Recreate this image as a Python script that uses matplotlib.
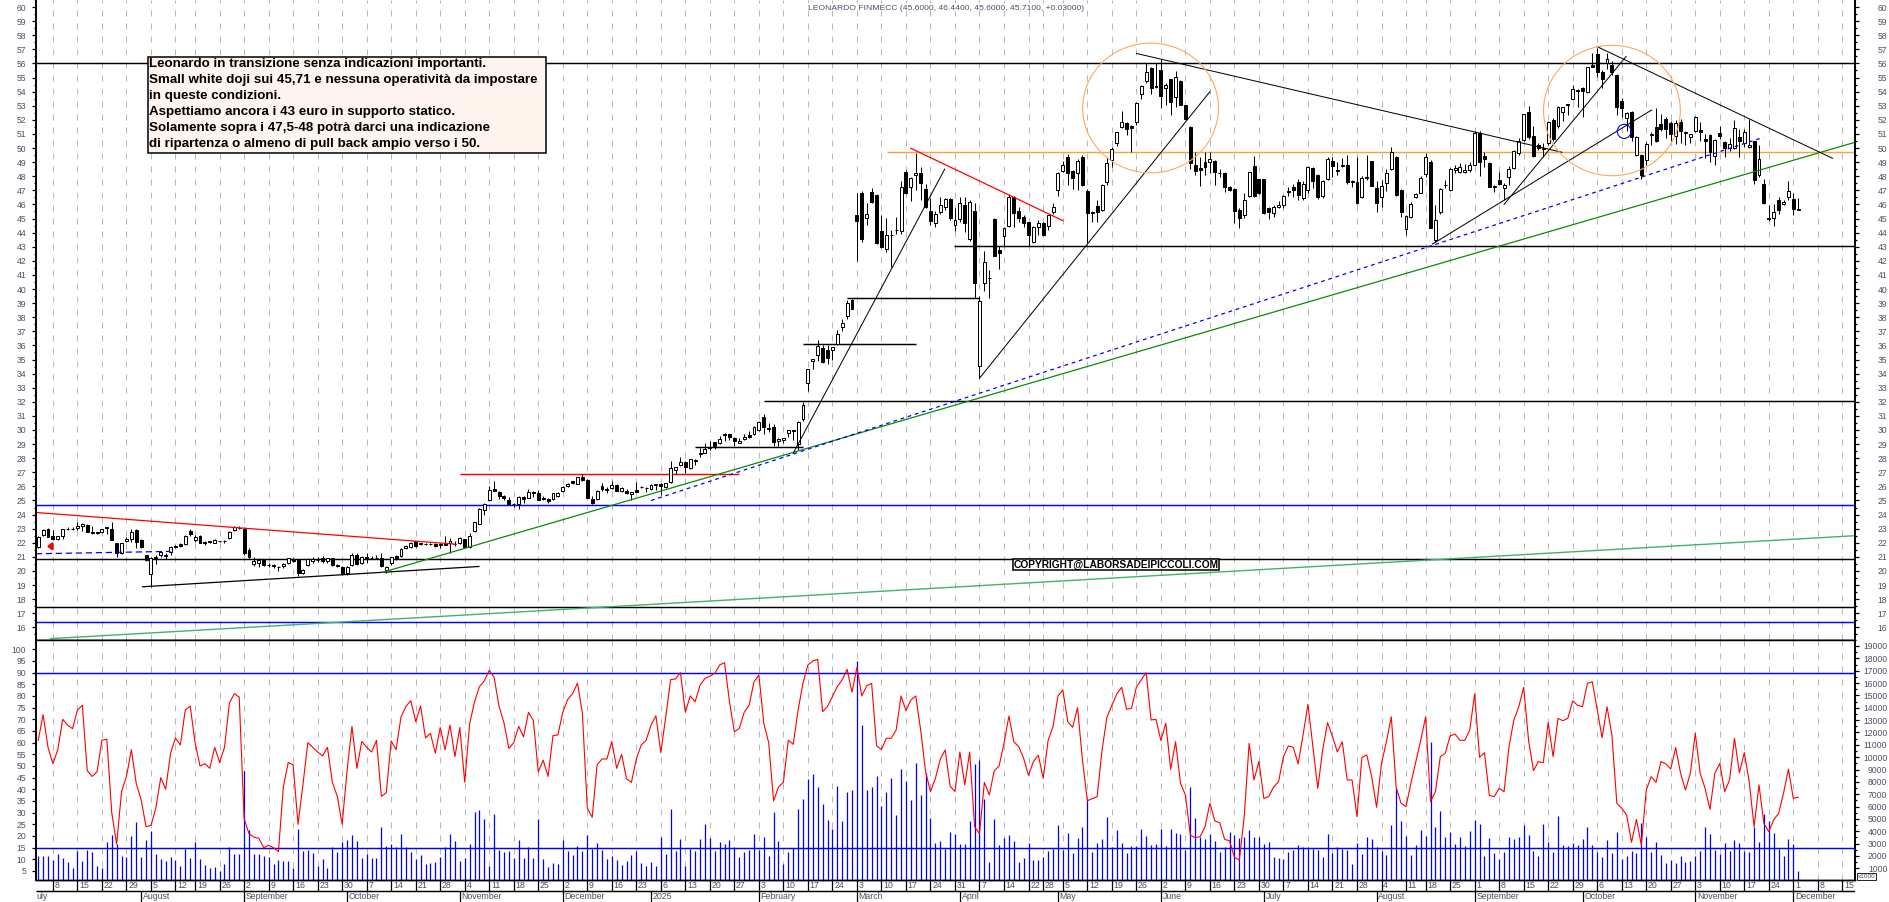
import numpy as np, pandas as pd
import matplotlib
matplotlib.use('Agg')
import matplotlib.pyplot as plt
from matplotlib.patches import Ellipse, Rectangle

plt.rcParams['font.family'] = ['Liberation Sans', 'DejaVu Sans']

title = 'LEONARDO FINMECC (45.6000, 46.4400, 45.6000, 45.7100, +0.03000)'
note_lines = ['Leonardo in transizione senza indicazioni importanti.',
              'Small white doji sui 45,71 e nessuna operatività da impostare',
              'in queste condizioni.',
              'Aspettiamo ancora i 43 euro in supporto statico.',
              'Solamente sopra i 47,5-48 potrà darci una indicazione',
              'di ripartenza o almeno di pull back ampio verso i 50.']
copyright_text = 'COPYRIGHT@LABORSADEIPICCOLI.COM'
holidays = ['2024-08-15','2024-12-24','2024-12-25','2024-12-26','2024-12-31','2025-01-01',
            '2025-04-21','2025-04-25','2025-05-01','2025-08-15']
month_names = {1:'2025',2:'February',3:'March',4:'April',5:'May',6:'June',7:'July',8:'August',
               9:'September',10:'October',11:'November',12:'December'}

opens = [21.7,22.55,23.0,22.45,22.25,22.5,22.95,23.0,23.05,23.2,
23.25,22.75,22.75,22.8,23.1,23.0,21.95,21.25,22.1,22.25,
22.9,22.2,21.1,19.8,21.0,21.15,21.15,21.35,21.7,21.9,
21.9,22.85,22.2,22.5,22.05,22.1,22.0,22.1,22.1,22.35,
22.9,23.05,23.0,21.5,20.5,20.55,20.75,20.4,20.4,20.25,
20.35,20.55,20.8,20.75,19.85,20.4,20.7,20.75,20.95,20.7,
20.9,20.4,20.3,19.85,20.4,21.1,20.55,21.0,20.9,20.95,
20.95,20.1,20.6,21.05,21.05,21.6,21.7,22.1,21.9,21.9,
21.9,21.9,21.85,21.95,22.0,21.9,21.95,22.25,21.7,22.85,
23.35,24.3,25.0,25.8,25.6,25.35,25.05,24.75,24.75,25.25,
25.2,25.6,25.5,25.2,25.1,25.1,25.35,25.7,26.0,26.35,
26.2,26.7,26.45,25.1,25.1,26.0,25.8,25.9,26.1,25.7,
25.68,25.44,25.75,25.93,25.87,25.8,26.08,26.17,25.94,26.29,
27.17,27.5,27.73,27.28,27.85,28.3,28.4,28.75,29.13,29.06,
29.65,29.72,29.44,29.1,29.34,29.65,29.7,30.0,30.93,30.05,
30.2,29.25,29.3,29.77,29.9,29.0,30.76,33.3,34.87,35.3,
35.8,35.65,35.7,36.1,37.3,38.1,39.2,
45.25,46.83,45.01,46.9,46.66,44.11,42.83,43.8,44.18,44.11,
48.33,47.21,48.06,48.2,47.07,45.53,44.66,45.48,45.79,46.38,
44.53,44.99,45.96,43.53,45.53,34.56,40.45,40.75,44.96,42.76,
43.73,44.47,46.5,45.53,45.13,44.73,43.36,44.43,44.66,44.49,
45.48,47.03,48.39,49.38,48.39,48.2,49.33,46.97,45.36,45.88,
45.6,47.61,49.13,50.33,51.49,51.75,51.56,51.82,53.83,54.77,
55.65,54.4,55.53,54.23,54.89,53.59,54.75,53.05,51.51,48.8,
48.6,48.98,49.0,49.05,48.2,48.2,47.21,47.07,45.63,45.25,
46.63,48.73,47.8,47.8,45.73,45.41,45.8,45.93,46.86,47.26,
47.59,46.45,47.03,48.56,48.08,46.63,47.83,49.08,48.4,48.72,
48.8,47.61,47.61,46.53,47.85,49.08,47.13,46.53,47.49,48.51,
49.33,47.03,44.23,45.13,46.55,46.83,48.13,48.98,43.48,45.43,
47.35,47.03,48.43,48.3,48.3,48.43,48.83,51.08,49.43,48.91,
47.26,47.71,47.13,47.97,48.6,49.67,50.57,52.53,50.83,50.19,
49.95,50.33,51.98,51.53,52.53,53.05,53.5,54.05,54.23,53.97,
55.88,56.66,55.41,56.0,55.88,55.15,53.33,52.1,52.58,49.53,
49.53,49.15,50.93,51.46,51.68,52.06,51.75,50.85,51.87,51.09,
50.76,51.2,51.28,50.61,50.93,49.43,51.04,50.4,49.98,50.03,
50.76,50.33,50.05,50.49,48.08,47.43,45.01,45.03,46.31,46.03,
46.5,46.38,45.6]

highs = [22.45,22.95,23.05,22.9,22.5,23.0,23.1,23.1,23.5,23.4,
23.3,23.2,22.8,23.0,23.15,23.45,22.0,22.0,22.4,23.0,
22.95,22.25,21.15,21.0,21.15,21.4,21.25,21.8,21.85,21.95,
22.55,23.0,22.55,22.55,22.15,22.15,22.25,22.15,22.2,22.85,
23.2,23.2,23.1,21.65,21.0,20.9,20.85,20.55,20.5,20.35,
20.55,20.95,20.95,20.8,20.15,20.9,21.0,21.0,21.05,20.95,
20.95,20.5,20.35,20.35,21.25,21.3,21.05,21.25,21.05,21.15,
21.3,20.35,21.0,21.1,21.65,21.85,22.05,22.15,22.0,21.95,
21.95,21.95,21.95,22.5,22.35,22.1,22.4,22.3,22.7,23.5,
24.45,24.85,26.0,26.35,25.65,25.4,25.25,24.85,25.3,25.3,
25.8,25.65,25.75,25.3,25.2,25.55,25.6,26.0,26.25,26.4,
26.7,26.85,26.5,25.3,25.75,26.25,25.95,26.35,26.2,25.95,
25.8,25.6,26.3,26.0,25.95,26.15,26.2,26.25,26.25,27.78,
27.4,28.05,27.8,27.95,27.95,28.7,29.1,29.2,29.15,29.6,
29.77,29.75,29.5,29.4,29.75,29.9,30.3,30.65,31.15,30.5,
30.45,29.4,29.46,29.97,30.0,30.65,32.0,34.3,35.05,36.4,
36.05,36.05,35.9,37.1,37.9,39.2,39.3,
46.83,46.93,46.13,47.13,46.73,45.23,45.03,44.18,45.08,47.63,
48.43,47.93,49.68,48.63,47.48,46.43,45.53,46.53,46.43,46.43,
45.73,46.53,46.53,46.33,46.13,39.5,42.73,41.33,45.03,43.03,
44.43,46.73,46.63,45.83,45.28,44.73,44.48,44.9,44.73,45.28,
46.13,48.33,49.08,49.58,48.43,49.23,49.53,47.08,45.53,46.31,
47.43,49.38,50.08,51.13,52.63,51.83,51.63,53.23,54.48,56.03,
55.73,56.03,56.28,54.63,54.93,55.43,54.83,53.08,51.53,49.73,
49.38,49.73,49.73,49.13,48.53,48.28,47.33,47.13,45.73,46.78,
48.33,49.43,47.83,47.83,45.83,45.93,46.23,46.68,47.23,47.43,
47.83,47.63,48.73,48.63,48.13,47.73,49.33,49.33,49.03,49.28,
49.48,47.73,49.33,48.03,49.53,49.08,47.63,47.73,48.53,50.08,
49.43,47.08,45.23,46.18,46.83,48.03,49.68,49.18,45.93,47.13,
47.73,48.58,48.78,48.93,48.88,49.03,51.23,51.23,49.73,48.98,
47.38,48.28,47.53,48.73,49.88,50.73,52.43,52.98,51.53,50.33,
50.33,51.93,52.13,52.98,52.93,53.13,54.48,54.18,54.33,55.78,
56.73,57.13,55.53,56.73,56.18,55.23,53.58,52.53,52.63,50.83,
49.58,50.43,51.13,52.83,52.43,52.23,51.93,51.98,52.03,51.18,
51.03,52.28,51.83,50.98,50.98,50.63,51.53,50.48,50.73,51.98,
51.33,51.33,52.03,50.53,50.23,47.83,45.93,46.03,46.53,46.28,
47.63,46.78,46.44]

lows = [21.65,22.5,22.4,22.2,22.2,22.3,22.9,22.9,22.9,22.85,
22.75,22.6,22.65,22.7,22.65,22.2,21.0,21.2,22.05,22.05,
21.65,21.6,20.7,18.85,20.5,21.0,20.85,21.1,21.65,21.7,
21.85,22.5,22.05,21.95,21.85,22.0,21.95,22.05,22.0,22.3,
22.85,23.0,21.15,20.95,20.35,20.3,20.35,20.25,20.2,20.0,
20.2,20.5,20.65,19.65,19.8,20.35,20.6,20.65,20.6,20.6,
20.35,20.3,19.75,19.75,20.35,20.45,20.5,20.6,20.85,20.85,
20.3,19.85,20.4,20.8,21.0,21.55,21.65,21.7,21.85,21.85,
21.85,21.7,21.65,21.85,21.3,21.8,21.9,21.7,21.65,22.8,
23.3,23.95,24.95,25.65,25.1,25.0,24.65,24.55,24.4,24.85,
25.15,25.25,25.0,25.0,24.85,25.05,25.25,25.6,25.95,26.15,
26.15,26.4,25.1,24.75,25.05,25.7,25.55,25.85,25.65,25.6,
25.45,25.04,25.6,25.9,25.62,25.75,25.75,25.42,25.9,26.25,
26.85,27.45,26.95,27.25,27.55,28.05,28.35,28.55,28.65,29.0,
29.2,29.3,28.85,29.05,29.3,29.45,29.65,29.95,29.7,29.85,
28.9,28.85,29.1,29.5,29.3,28.6,30.65,32.8,34.3,34.9,
34.75,34.7,34.95,36.0,37.0,37.9,38.6,
41.99,43.33,44.53,46.13,43.18,42.93,42.63,41.58,43.93,43.93,
46.73,46.23,47.03,46.32,45.73,44.53,44.38,45.33,45.63,44.93,
44.13,44.78,44.03,43.43,39.33,33.67,39.83,39.33,42.33,41.43,
43.0,44.43,44.43,44.73,44.43,43.03,43.23,43.83,43.73,44.18,
45.33,46.63,48.33,47.38,47.06,47.03,47.33,43.28,44.78,44.78,
45.53,47.37,48.68,50.13,51.43,50.93,49.73,51.63,53.48,54.58,
53.83,54.23,52.83,53.03,52.33,52.93,53.03,52.03,48.53,48.08,
47.33,48.08,48.23,47.38,47.93,46.9,46.93,44.69,44.33,45.03,
46.53,46.53,46.73,45.33,45.0,45.13,45.73,45.77,46.63,46.53,
46.31,46.31,46.78,47.13,46.38,46.48,47.73,47.93,48.08,48.63,
47.43,47.26,46.03,46.43,47.73,47.33,45.48,45.83,46.93,48.43,
46.6,45.13,43.83,45.03,46.43,46.78,47.93,44.33,43.33,45.33,
47.13,46.98,48.23,48.23,48.23,48.33,48.78,48.03,48.68,47.23,
46.89,47.38,46.31,47.38,48.53,49.53,50.53,50.63,49.33,49.83,
49.38,50.23,50.53,51.43,51.93,52.33,53.43,52.93,52.18,53.93,
55.73,55.06,54.23,55.63,55.18,52.33,52.23,51.23,50.53,49.43,
47.83,48.78,50.18,50.43,51.23,50.68,50.53,50.28,50.33,50.23,
50.33,51.13,50.53,49.28,48.98,48.83,50.63,49.33,49.78,49.93,
49.38,50.08,49.98,47.48,47.98,46.03,44.83,44.48,45.29,45.93,
46.33,45.28,45.6]

closes = [22.4,22.9,22.4,22.25,22.45,22.95,23.0,22.95,23.2,23.3,
22.75,22.7,22.7,22.95,23.05,22.2,21.3,21.95,22.25,22.75,
22.05,21.7,20.8,20.9,20.95,21.35,21.05,21.7,21.8,21.75,
22.5,22.6,22.4,21.95,22.0,22.05,22.2,22.1,22.15,22.8,
23.15,23.05,21.3,21.0,20.7,20.75,20.4,20.45,20.35,20.25,
20.5,20.9,20.7,19.85,20.1,20.85,20.85,20.8,20.7,20.9,
20.45,20.35,19.8,20.3,21.1,20.5,21.0,20.95,20.95,20.9,
20.35,20.3,21.0,20.85,21.55,21.8,22.0,21.75,21.95,21.9,
21.9,21.8,21.85,21.85,22.15,21.9,22.35,21.7,22.5,23.45,
24.4,24.75,25.75,25.7,25.35,25.15,24.75,24.75,25.25,25.1,
25.6,25.5,25.0,25.1,24.95,25.5,25.5,25.95,26.2,26.25,
26.65,26.45,25.15,24.85,25.7,25.8,25.75,26.1,25.7,25.9,
25.56,25.58,25.63,25.97,25.9,26.1,26.18,26.0,26.22,27.28,
27.36,27.7,27.4,27.92,27.8,28.38,28.66,28.8,28.87,29.36,
29.75,29.48,29.25,29.2,29.48,29.5,30.24,30.6,30.24,30.15,
29.17,29.39,29.46,29.97,29.97,30.6,31.75,34.3,35.03,35.94,
34.8,35.13,35.87,36.8,37.57,39.0,38.6,
44.85,43.53,45.32,46.19,43.23,43.0,43.8,43.85,44.2,47.26,
46.78,47.85,48.25,47.49,45.83,44.85,45.3,45.93,46.36,45.06,
44.89,46.08,44.7,46.17,40.45,39.15,41.93,40.8,42.33,42.58,
44.3,46.55,45.36,45.06,44.7,43.83,44.43,44.66,43.83,45.23,
45.83,48.2,48.83,48.25,47.85,49.08,47.37,45.36,45.48,45.43,
47.37,48.96,49.95,51.11,51.82,51.33,51.39,53.17,54.4,55.36,
54.23,54.3,53.71,54.49,53.23,55.01,53.05,52.03,48.91,48.39,
48.43,48.68,49.2,48.33,48.25,47.21,47.03,45.53,45.03,46.31,
48.27,46.63,46.83,45.41,45.43,45.8,45.93,46.63,46.98,47.03,
46.67,47.43,48.68,47.66,46.5,47.63,49.2,48.73,48.45,48.78,
47.61,47.66,46.13,47.88,47.97,47.33,46.13,47.33,48.2,49.73,
46.66,45.43,45.18,46.03,46.76,47.85,49.33,44.33,44.93,47.07,
47.4,48.48,48.6,48.68,48.43,48.8,51.08,49.03,49.2,47.26,
47.3,47.45,47.38,48.48,49.81,50.52,52.38,50.8,49.43,49.98,
50.0,51.82,50.63,52.93,52.88,53.1,54.16,54.1,54.03,55.72,
55.78,55.41,54.93,56.29,55.41,52.93,52.86,52.46,50.8,50.8,
48.08,50.28,51.03,50.53,51.33,51.33,51.03,51.8,51.2,51.14,
50.97,52.17,51.11,50.53,49.7,50.57,50.87,50.03,50.26,51.39,
50.53,51.16,50.21,47.73,49.2,46.08,44.96,45.43,45.6,46.19,
46.98,45.68,45.71]

rsi = [61,72,58,51,57,70,67.5,66,74,76,48,45.5,47.5,61,61.5,30,16.5,39,45.5,57,
42.5,35.5,24,24.5,32,45,40,55.5,62,59,74,75.7,60,50,51,49,58,51.5,58,77,
81,79.5,27.5,21,19.5,19,15,16,15,13.3,41,51.5,50.5,25,42,60,58,56,54.3,58,
43,37,25,48,67,49,60.5,58,56,61,37,38.5,60.7,57,71,75.5,78,69,75.7,62,
64,55.5,66.5,57,67.5,54,66.5,43,68,77.5,84,86.5,91,88,75.5,68.5,57.5,60,67,62.5,
73,69.5,47.5,52.5,45.5,63,63.3,73,78.5,81,85.5,72.5,32,28,50.5,53,53,60.5,49,55,
44.5,43,53,59,61,67.5,71.5,55.7,71,87,87.3,90,73,80,77.5,84.7,87.5,88.5,89.7,93.3,
94.3,77.5,64.7,66,73,76,86,89,68.3,60,35,41,43,61,59.3,74,85.5,93.3,95,95.7,
73.3,75.5,79.7,84,87,91.4,81.6,92.3,80,84.4,85.4,58.7,57,61.9,61.9,65.4,80,73.7,78.3,80,
65.4,47.6,39,44.7,52.9,56.9,41.4,39,56,41.9,56,24,21,43,37.6,47.9,50,59.7,71.4,60.4,
58.3,53.3,46,51.9,54.6,44.7,61,66.9,80,82.6,69,66.6,75,52.6,35.1,36,36.9,56.9,71,76,
80.9,83.7,74.3,74.7,83.7,86.9,90,69.7,70,60.9,68.3,48.6,60.4,42.6,37.6,20.4,19.3,19.7,24,34,
26.4,25.7,18.6,17.9,10.9,9.7,28.3,59.7,44,52,36.1,36.9,41,43.3,54,58.6,58,50.9,63.3,76.4,
58.3,40.4,56.9,68.6,62.6,56,60.4,44,44,28.3,53.7,54.7,45.4,32.3,51.1,60.4,71.1,40.7,34,32.6,
42.6,51.9,61,71.1,34.7,39,54,55.4,62.9,63.7,61,61,65.4,80.9,53.7,55.7,37.3,36.9,40.4,39,
58.3,69.7,75.4,83.7,61,48,51.9,51.4,68.6,54,70.4,69.4,70.4,77.9,76,75.4,85.4,86.1,74,62.1,
75.4,63.3,34,31.9,29,17.3,27.1,16.1,39.7,45.4,43,51.9,50.9,48.7,57.9,46.9,39.7,46.9,64,46.9,
40.4,31.4,46.9,51.1,39,44,61.9,47.1,55.7,43.3,24,41.9,25.4,21.9,26.9,29.7,38.3,48.6,36.1,36.6]

volume_k = [2.0,2.0,2.0,1.7,2.15,1.8,1.5,1.05,2.4,1.6,2.5,2.3,1.2,1.05,3.1,3.7,3.0,2.0,1.95,3.6,
4.75,1.95,3.3,4.0,2.15,1.75,1.6,1.95,1.7,1.2,2.55,1.85,3.1,1.75,1.3,1.05,1.1,0.8,1.35,2.7,
2.15,2.15,8.9,4.1,2.15,2.15,2.0,1.95,1.35,1.7,1.6,1.6,1.05,4.15,2.4,2.5,2.25,1.15,1.75,1.05,
2.7,2.3,3.1,3.3,3.7,3.2,1.85,2.15,1.85,1.85,4.35,2.8,3.0,2.7,3.8,2.7,2.3,1.75,2.1,1.35,
1.45,1.5,1.9,2.7,3.8,3.2,1.6,1.85,3.0,5.55,5.7,5.0,1.2,5.4,2.5,2.3,2.4,1.85,3.3,1.85,
2.7,1.85,5.0,1.75,1.1,1.45,1.35,3.3,2.4,2.1,2.8,2.4,3.7,2.55,3.05,2.5,1.75,2.0,1.7,1.3,
1.6,2.1,2.4,1.4,1.2,1.5,1.2,3.5,2.15,5.8,2.4,3.4,1.2,2.55,2.4,3.4,4.6,3.45,2.4,3.1,
3.0,3.3,2.7,1.9,2.3,2.5,3.8,2.5,3.5,2.0,5.55,3.2,1.35,2.3,2.65,5.8,6.6,8.2,8.65,7.6,
6.2,4.9,4.2,7.65,4.85,7.2,7.35,17.8,12.6,7.35,7.6,8.5,6.05,7.2,8.3,5.3,9.05,8.05,6.55,9.55,
6.95,8.7,5.05,3.05,3.2,2.55,3.95,3.8,3.0,3.0,4.85,9.45,9.75,6.6,1.5,5.0,2.9,3.45,3.7,3.2,
1.5,1.85,3.05,1.7,1.7,1.9,2.4,2.55,4.5,2.5,3.85,2.25,3.45,4.35,6.55,2.3,3.05,3.4,5.15,2.7,
4.1,3.05,2.25,2.8,2.8,4.2,3.6,2.9,3.0,4.2,2.8,4.2,3.85,3.8,2.5,7.6,5.05,3.55,3.4,3.8,
3.2,2.3,2.7,3.95,3.7,3.45,3.55,4.1,3.55,3.5,3.0,3.1,1.9,1.85,1.75,2.3,2.5,2.9,2.7,2.7,
2.55,2.5,1.9,3.8,2.25,2.7,2.55,2.5,1.35,3.05,2.15,3.55,3.4,2.7,2.4,2.1,4.5,7.5,4.85,3.6,
2.1,2.9,4.1,3.6,11.2,4.35,5.65,3.55,3.95,3.0,3.55,2.8,4.0,4.9,4.6,2.0,3.45,2.25,1.75,2.3,
3.55,3.4,3.55,4.5,3.7,2.4,2.0,4.6,3.1,2.3,5.25,2.9,2.8,3.05,2.9,3.4,4.35,2.9,2.3,1.9,
3.3,2.25,3.95,1.75,2.0,2.4,2.25,4.7,3.55,2.3,3.1,2.1,1.45,1.7,1.45,2.0,1.5,1.6,2.0,2.4,
4.35,3.8,2.5,2.15,3.05,2.4,3.3,3.05,2.4,2.3,4.35,3.1,5.4,4.85,3.85,2.55,2.0,3.4,3.0,0.8]

sizes = {k: len(v) for k, v in dict(o=opens,h=highs,l=lows,c=closes,r=rsi,v=volume_k).items()}
assert len(set(sizes.values())) == 1 and sizes['o'] == 360, str(sizes)

# ---- layout (pixels of a 1890x902 image)
W, H = 1890, 902
L, R, Y1, Y2 = 35.8, 1854.6, 639.5, 880.0
def fx(x): return x / W
def fy(y): return 1 - y / H
fig = plt.figure(figsize=(W/100, H/100), dpi=100, facecolor='white')
XL = (-0.49, 370.5)
ax = fig.add_axes([fx(L), fy(Y1), fx(R-L), Y1/H])
ax.set_xlim(XL); ax.set_ylim(15.14, 60.5)
axr = ax.twinx(); axr.set_ylim(ax.get_ylim())
low_v = fig.add_axes([fx(L), fy(Y2), fx(R-L), (Y2-Y1)/H])
low_v.set_xlim(XL); low_v.set_ylim(53, 19526)
low_r = low_v.twinx(); low_r.set_ylim(1.14, 104.2)
dat = fig.add_axes([fx(L), 0, fx(R-L), (H-Y2)/H]); dat.set_xlim(XL); dat.set_ylim(1, 0); dat.axis('off')

# dates
future = pd.bdate_range('2024-07-03', '2025-12-19')
tdays = future[~future.isin(pd.to_datetime(holidays))]
idx = np.arange(len(tdays))
week_mask = (tdays.dayofweek == 0) | (tdays == pd.Timestamp('2025-04-22'))
week_mask &= (tdays != pd.Timestamp('2024-12-30'))
week_idx = idx[week_mask]; week_days = tdays[week_mask].day
month_mask = np.r_[False, tdays.month[1:] != tdays.month[:-1]]
month_idx = idx[month_mask]; month_lab = [month_names[m] for m in tdays[month_mask].month]

GRID = dict(color='#b8b8b8', lw=0.72, linestyles=(0, (6, 7)), zorder=0.5)
ax.vlines(week_idx, 15.14, 60.5, **GRID)
low_v.vlines(week_idx, 53, 19526, **GRID)

LABEL = '#4a4f66'
FS = 6.2
DATE_FS = 6.3
# ---- candles
x = np.arange(360)
o, h, l, c = map(np.array, (opens, highs, lows, closes))
ax.vlines(x, l, h, color='black', lw=0.72, zorder=3)
white = c >= o
ax.bar(x, np.maximum(np.abs(c-o), 0.03), bottom=np.minimum(o, c), width=0.6,
       facecolor=np.where(white, 'white', 'black'), edgecolor='black', lw=0.72, zorder=4)

# ---- horizontal levels
for lev in (56, 20.87, 17.43):
    ax.hlines(lev, *XL, color='black', lw=1.05, zorder=2)
for lev in (24.66, 16.36):
    ax.hlines(lev, *XL, color='#0000ff', lw=1.05, zorder=2)
ax.hlines(43.03, 186.9, XL[1], color='black', lw=1.05, zorder=2)
ax.hlines(32.06, 148, XL[1], color='black', lw=1.05, zorder=2)
ax.hlines(28.77, 134, 156, color='black', lw=1.05, zorder=2)
ax.hlines(36.08, 156, 179, color='black', lw=1.05, zorder=2)
ax.hlines(39.34, 165, 192, color='black', lw=1.05, zorder=2)
ax.hlines(26.85, 86, 142.9, color='#ff0000', lw=1.05, zorder=2)
ax.hlines(49.7, 173.2, XL[1], color='#ffa040', lw=1.05, zorder=2)

# ---- trend lines (bar index, price)
def seg(a, b, col, lw=0.72, ls='-'):
    ax.plot([a[0], b[0]], [a[1], b[1]], color=col, lw=lw, ls=ls, zorder=5)
seg((-0.49, 24.15), (85.2, 21.9), '#ff0000', 0.9)
seg((21.3, 18.88), (89.9, 20.32), 'black', 0.9)
seg((-0.49, 21.22), (27, 21.39), '#0000ff', 0.9, (0, (5, 3)))
seg((70.2, 19.9), (370.5, 50.4), '#0a8a0a', 0.9)
seg((125, 25.0), (351.9, 50.76), '#0000ff', 0.9, (0, (3, 3)))
seg((2.5, 15.2), (370.5, 22.5), '#3cb371', 1.0)
seg((154, 28.35), (184.9, 48.5), 'black')
seg((192, 33.67), (239, 54.0), 'black')
seg((178, 49.98), (209, 44.85), '#ff0000', 0.9)
seg((224, 56.71), (310.8, 49.7), 'black')
seg((284.4, 43.19), (329.1, 52.7), 'black')
seg((299, 46.0), (323.9, 56.5), 'black')
seg((318, 57.19), (366, 49.27), 'black')
for cx, cy, w, ht, col in ((226.9, 52.84, 27.7, 9.2, '#ffa860'), (321, 52.66, 27.9, 9.25, '#ffa860'),
                           (323.5, 51.18, 2.8, 1.0, '#0000ff')):
    ax.add_patch(Ellipse((cx, cy), w, ht, fill=False, ec=col, lw=0.8, zorder=6))
ax.annotate('', xy=(1.2, 21.75), xytext=(3.4, 21.75),
            arrowprops=dict(arrowstyle='-|>,head_width=0.2,head_length=0.25', color='#ff0000', lw=1.8), zorder=6)

# ---- lower panel
low_v.vlines(x, 53, np.array(volume_k)*1000, color='#0000ff', lw=0.9, zorder=2)
low_r.plot(x, rsi, color='#ff0000', lw=0.8, zorder=4)
low_r.hlines([90, 15], *XL, color='#0000ff', lw=1.05, zorder=3)
low_v.set_zorder(1); low_r.set_zorder(2); low_r.patch.set_visible(False)

# ---- axes & ticks
ax.set_xticks([]); axr.set_xticks([]); low_v.set_xticks([]); low_r.set_xticks([])
price_ticks = np.arange(16, 61)
ax.set_yticks(price_ticks); ax.set_yticks(np.arange(15.5, 60.5, 1), minor=True)
axr.set_yticks(price_ticks); axr.set_yticks(np.arange(15.5, 60.5, 1), minor=True)
ax.tick_params(axis='y', which='major', length=3.2, width=0.9, pad=3.6, labelsize=FS, labelcolor=LABEL, left=True)
ax.tick_params(axis='y', which='minor', length=1.6, width=0.9)
axr.tick_params(axis='y', which='major', length=3.2, width=0.9, pad=20.4, labelsize=FS, labelcolor=LABEL)
axr.tick_params(axis='y', which='minor', length=1.6, width=0.9)
for t in axr.get_yticklabels(): t.set_ha('right')
vt = np.arange(1000, 20000, 1000)
low_v.yaxis.tick_right()
low_v.set_yticks(vt); low_v.set_yticks(np.arange(1500, 19500, 1000), minor=True)
low_v.tick_params(axis='y', which='major', length=3.2, width=0.9, pad=20.4, labelsize=FS, labelcolor=LABEL)
low_v.tick_params(axis='y', which='minor', length=1.6, width=0.9)
for t in low_v.get_yticklabels(): t.set_ha('right')
rt = np.arange(5, 105, 5)
low_r.yaxis.tick_left()
low_r.set_yticks(rt)
low_r.tick_params(axis='y', which='major', length=3.2, width=0.9, pad=3.6, labelsize=FS, labelcolor=LABEL)
for a in (ax, axr, low_v, low_r):
    a.spines['top'].set_visible(False)
    a.spines['left'].set_linewidth(1.2); a.spines['right'].set_linewidth(1.2); a.spines['bottom'].set_linewidth(1.05)
fig.add_artist(plt.Line2D([fx(L), fx(R)], [fy(Y1), fy(Y1)], color='black', lw=1.05, zorder=20))

# ---- date rows
dat.hlines(0.5, *XL, color='black', lw=1.05)
dat.vlines(week_idx[week_idx <= 368], 0, 0.5, color='black', lw=0.9)
dat.vlines(month_idx[month_idx < 360], 0.5, 1, color='black', lw=0.9)
for i, d in zip(week_idx, week_days):
    if i <= 368:
        dat.text(i + 0.35, 0.27, str(d), fontsize=DATE_FS, color=LABEL, va='center', ha='left', clip_on=True)
dat.text(-0.3, 0.77, 'uly', fontsize=DATE_FS, color=LABEL, va='center', ha='left')
for i, m in zip(month_idx, month_lab):
    if i < 360:
        dat.text(i + 0.35, 0.77, m, fontsize=DATE_FS, color=LABEL, va='center', ha='left')

# ---- overlays in image pixels
fig.text(fx(807.6), fy(8), title, fontsize=6.1, color=LABEL, va='center', ha='left')
fig.add_artist(Rectangle((fx(148), fy(152.7)), fx(397.6), (152.7-56.7)/H, transform=fig.transFigure,
                         facecolor='#fff5ee', edgecolor='black', lw=1.1, zorder=30))
for n, line in enumerate(note_lines):
    fig.text(fx(149.5), fy(64.5 + 16.0*n), line, fontsize=9.6, fontweight='bold', color='black',
             va='center', ha='left', zorder=31)
fig.add_artist(Rectangle((fx(1013.3), fy(569.7)), fx(206), (569.7-559)/H, transform=fig.transFigure,
                         facecolor='white', edgecolor='black', lw=1.1, zorder=30))
fig.text(fx(1116.3), fy(564.6), copyright_text, fontsize=7.35, fontweight='bold', color='black',
         va='center', ha='center', zorder=31)
fig.add_artist(Rectangle((fx(1857.5), fy(879.5)), fx(18.5), 6.8/H, transform=fig.transFigure,
                         facecolor='white', edgecolor='black', lw=0.6, zorder=30))
fig.text(fx(1866.7), fy(876), 'x1000', fontsize=4.6, color=LABEL, va='center', ha='center', zorder=31)

fig.savefig('out.png', dpi=100)
